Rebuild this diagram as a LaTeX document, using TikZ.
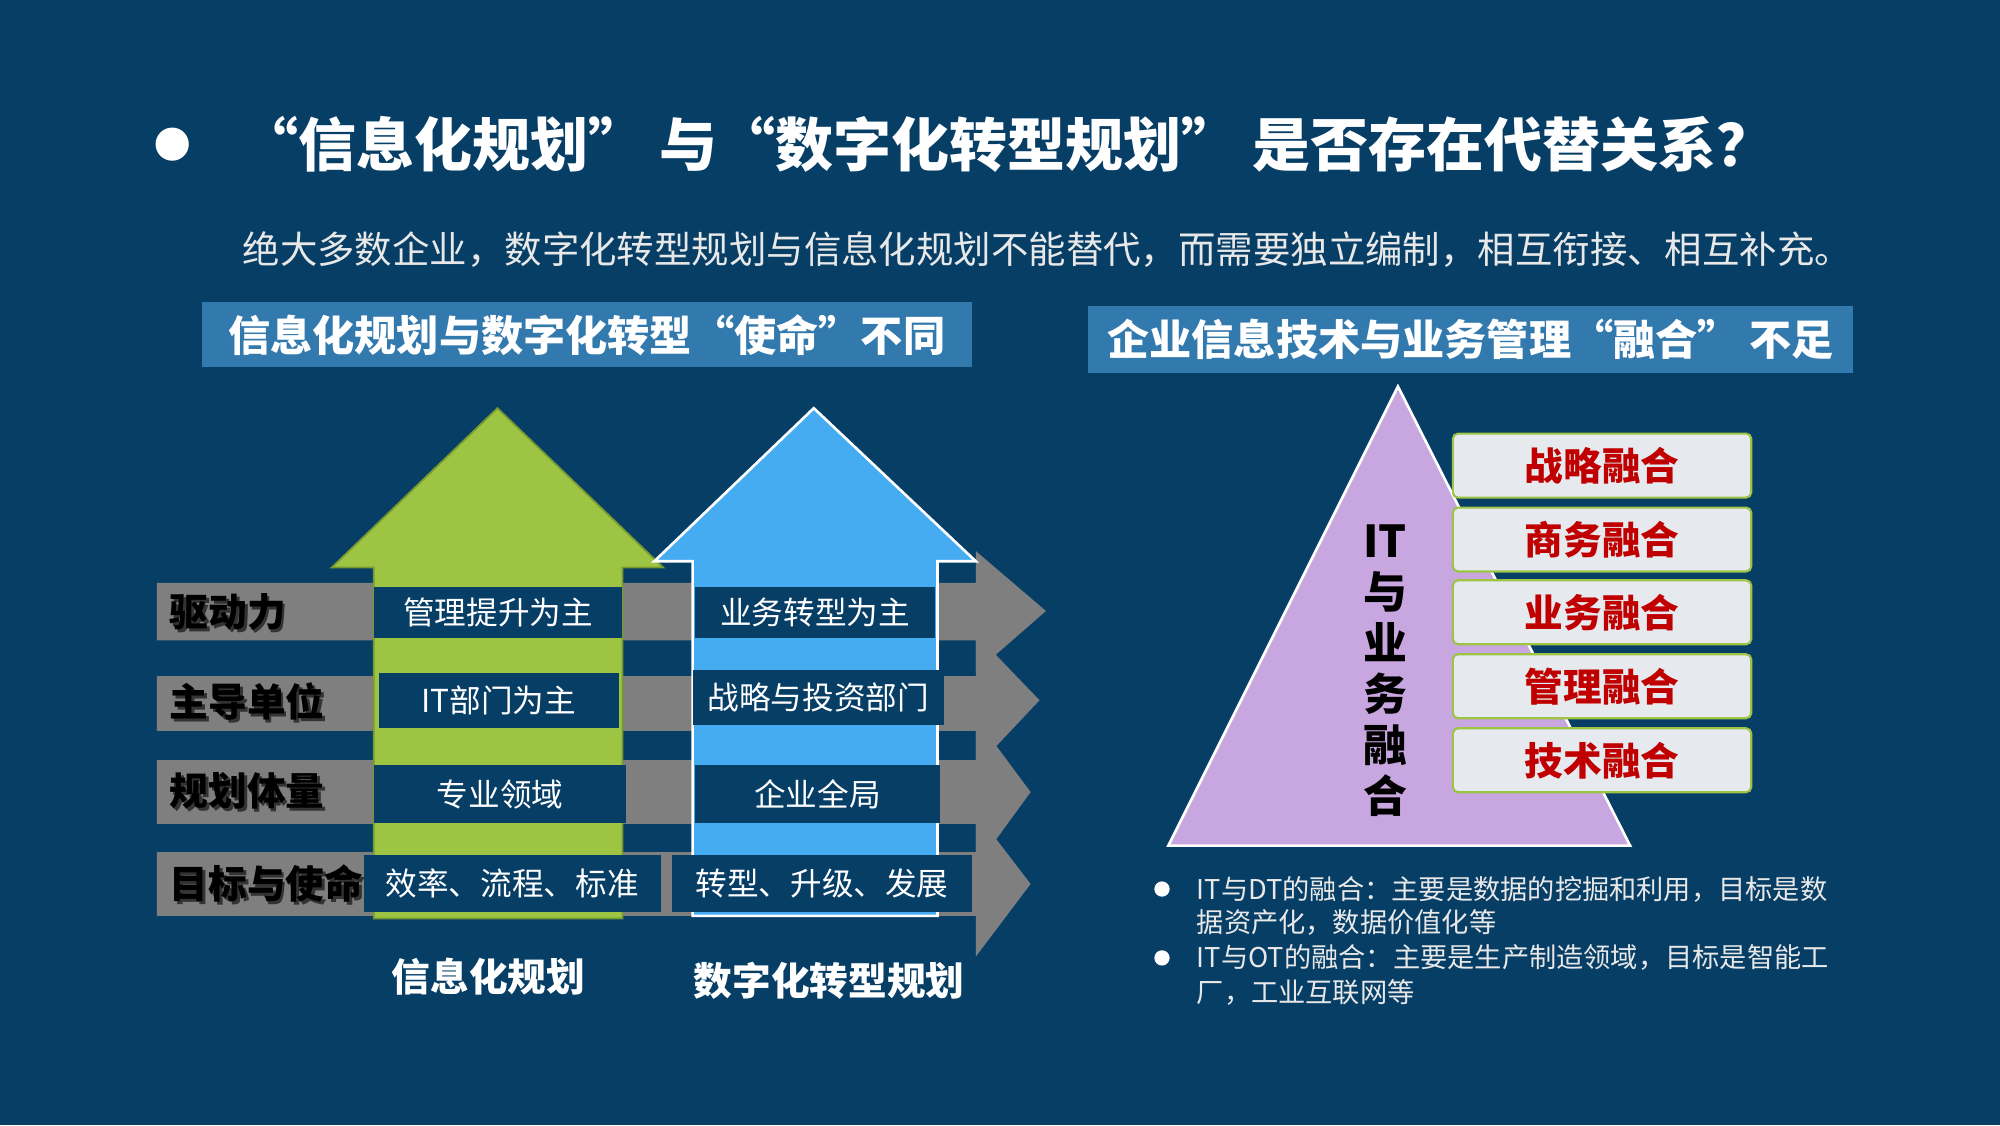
\documentclass[tikz,border=0pt]{standalone}
\usepackage{fontspec}
\setmainfont{Noto Sans CJK SC}
\usetikzlibrary{shadows}
\definecolor{bg}{HTML}{073E66}
\definecolor{hdr}{HTML}{3279AE}
\definecolor{gbar}{HTML}{7F7F7F}
\definecolor{grn}{HTML}{9EC444}
\definecolor{grnd}{HTML}{789A2E}
\definecolor{blu}{HTML}{46ACF2}
\definecolor{lav}{HTML}{C8A6DF}
\definecolor{boxf}{HTML}{E6EAEE}
\definecolor{dred}{HTML}{C00000}
\definecolor{subt}{HTML}{E8E8E8}
\newcommand{\fs}[1]{\fontsize{#1}{#1}\selectfont}
\tikzset{
 x=0.02551cm,y=-0.02551cm,
 hbox/.style={fill=hdr,text=white,font=\fs{24}\bfseries,inner sep=0pt},
 cell/.style={fill=bg,text=white,font=\fs{18},inner sep=0pt},
 rowlab/.style={text=black,font=\fs{22}\bfseries,anchor=west,inner sep=0pt},
 fuse/.style={fill=boxf,draw=grn,line width=1.2pt,rounded corners=3pt,text=dred,font=\fs{22}\bfseries,inner sep=0pt},
 btxt/.style={text=subt,font=\fs{15.5},anchor=west,inner sep=0pt},
}
\begin{document}
\begin{tikzpicture}
\fill[bg] (0,0) rectangle (1568,882);
\useasboundingbox (0,0) rectangle (1568,882);
% title
\fill[white] (135,113) circle (13);
\node[text=white,font=\fs{33}\bfseries,anchor=west,inner sep=0pt] (title) at (188,113) {“信息化规划” 与“数字化转型规划” 是否存在代替关系？};
\node[text=subt,font=\fs{21.3},anchor=west,inner sep=0pt] (sub) at (190,196) {绝大多数企业，数字化转型规划与信息化规划不能替代，而需要独立编制，相互衔接、相互补充。};
\node[hbox,minimum width=15.41cm,minimum height=1.30cm] (hl) at (460,262.5) {信息化规划与数字化转型“使命”不同};
\node[hbox,minimum width=15.31cm,minimum height=1.33cm] (hr) at (1153,266) {企业信息技术与业务管理“融合” 不足};
% gray row arrows
\fill[gbar] (123,457) -- (765,457) -- (765,432) -- (820,479) -- (765,527) -- (765,502) -- (123,502) -- cycle;
\fill[gbar] (123,530) -- (765,530) -- (765,497) -- (815,549) -- (765,602) -- (765,573) -- (123,573) -- cycle;
\fill[gbar] (123,596) -- (765,596) -- (765,563) -- (808,621) -- (765,680) -- (765,646) -- (123,646) -- cycle;
\fill[gbar] (123,668) -- (765,668) -- (765,637) -- (808,693) -- (765,750) -- (765,718) -- (123,718) -- cycle;
% green arrow
\filldraw[fill=grn,draw=grnd,line width=1pt] (293,720) -- (293,445) -- (260,445) -- (390,320) -- (520,445) -- (488,445) -- (488,720) -- cycle;
% blue arrow
\filldraw[fill=blu,draw=white,line width=1.5pt] (543,718) -- (543,440) -- (513,440) -- (638,320) -- (765,440) -- (735,440) -- (735,718) -- cycle;
% cells
\node[cell,minimum width=4.97cm,minimum height=1.02cm] (c11) at (390.5,480) {管理提升为主};
\node[cell,minimum width=4.80cm,minimum height=1.02cm] (c12) at (639,480) {业务转型为主};
\node[cell,minimum width=4.80cm,minimum height=1.10cm] (c21) at (391,549.5) {IT部门为主};
\node[cell,minimum width=5.03cm,minimum height=1.10cm] (c22) at (641.5,546.5) {战略与投资部门};
\node[cell,minimum width=5.05cm,minimum height=1.15cm] (c31) at (392,622.5) {专业领域};
\node[cell,minimum width=4.90cm,minimum height=1.15cm] (c32) at (641,622.5) {企业全局};
\node[cell,minimum width=5.94cm,minimum height=1.15cm] (c41) at (401.5,692.5) {效率、流程、标准};
\node[cell,minimum width=6.00cm,minimum height=1.15cm] (c42) at (644.5,692.5) {转型、升级、发展};
% row labels
\foreach \t/\yy in {驱动力/480,主导单位/550,规划体量/620,目标与使命/693}{
 \node[rowlab,text=black!60!gbar] at (135,\yy+2) {\t};
 \node[rowlab] at (133,\yy) {\t};
}
\node[text=white,font=\fs{22}\bfseries,inner sep=0pt] (l1) at (383,766) {信息化规划};
\node[text=white,font=\fs{22}\bfseries,inner sep=0pt] (l2) at (650,769) {数字化转型规划};
% triangle
\filldraw[fill=lav,draw=white,line width=1.5pt] (1096,303) -- (1278,663) -- (916,663) -- cycle;
\node[text=black,font=\fontsize{25}{29}\selectfont\bfseries,align=center,inner sep=0pt] (tv) at (1086,526) {IT\\与\\业\\务\\融\\合};
\foreach \t/\yy [count=\i] in {战略融合/365,商务融合/423,业务融合/480,管理融合/538,技术融合/596}{
 \node[fuse,minimum width=5.97cm,minimum height=1.28cm] (f\i) at (1256,\yy) {\t};
}
% bullets
\fill[white] (911,697) circle (6);
\fill[white] (911,751) circle (6);
\node[btxt] (b1) at (938,697) {IT与DT的融合：主要是数据的挖掘和利用，目标是数};
\node[btxt] (b2) at (938,723) {据资产化，数据价值化等};
\node[btxt] (b3) at (938,751) {IT与OT的融合：主要是生产制造领域，目标是智能工};
\node[btxt] (b4) at (938,778) {厂，工业互联网等};
\end{tikzpicture}
\end{document}
